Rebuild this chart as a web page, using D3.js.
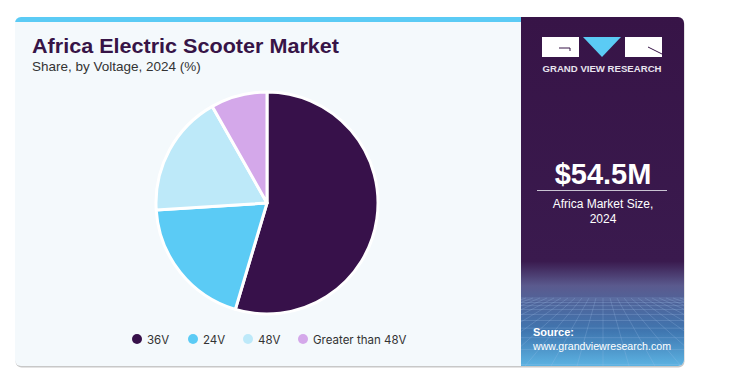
<!DOCTYPE html>
<html>
<head>
<meta charset="utf-8">
<script src="https://cdn.jsdelivr.net/npm/d3@7"></script>
<style>
    body { margin: 0; background: #fff; }
    svg { display: block; font-family: "Liberation Sans", Arial, sans-serif; }
</style>
</head>
<body>
<svg id="vis" width="730" height="378"></svg>
<script>
// chart data
const CATEGORIES = ["36V", "24V", "48V", "Greater than 48V"];
const SHARES = [54.6, 19.4, 17.8, 8.2];
const COLORS = ["#37114a", "#5bcbf5", "#bde9f9", "#d4a8ea"];

const TITLE = "Africa Electric Scooter Market";
const SUBTITLE = "Share, by Voltage, 2024 (%)";
const MARKET_SIZE = "$54.5M";
const MARKET_LABEL = ["Africa Market Size,", "2024"];

const CARD = {left: 15, top: 17, right: 684, bottom: 366, panel: 521};

var svg = d3.select("#vis");
var defs = svg.append("defs");

// clip for the rounded card
defs.append("clipPath").attr("id", "cardClip")
    .append("rect")
    .attr("x", CARD.left).attr("y", CARD.top)
    .attr("width", CARD.right - CARD.left).attr("height", CARD.bottom - CARD.top)
    .attr("rx", 6);
defs.append("clipPath").attr("id", "panelClip")
    .append("rect")
    .attr("x", CARD.panel).attr("y", CARD.top)
    .attr("width", CARD.right - CARD.panel).attr("height", CARD.bottom - CARD.top);

var grad = defs.append("linearGradient").attr("id", "panelGrad")
    .attr("x1", 0).attr("y1", 0).attr("x2", 0).attr("y2", 1);
grad.append("stop").attr("offset", "0%").attr("stop-color", "#371447");
grad.append("stop").attr("offset", "70%").attr("stop-color", "#3a1a4e");
grad.append("stop").attr("offset", "77%").attr("stop-color", "#5a5a8e");
grad.append("stop").attr("offset", "90%").attr("stop-color", "#3f76b0");
grad.append("stop").attr("offset", "100%").attr("stop-color", "#5cb3e2");

// card shadow / border
svg.append("rect")
    .attr("x", CARD.left + 0.5).attr("y", CARD.top + 1.5)
    .attr("width", CARD.right - CARD.left).attr("height", CARD.bottom - CARD.top)
    .attr("rx", 6).attr("fill", "#c8c8c8");

var card = svg.append("g").attr("clip-path", "url(#cardClip)");

card.append("rect")
    .attr("x", CARD.left).attr("y", CARD.top)
    .attr("width", CARD.right - CARD.left).attr("height", CARD.bottom - CARD.top)
    .attr("fill", "#f4f9fc");

// cyan top strip
card.append("rect")
    .attr("x", CARD.left).attr("y", CARD.top)
    .attr("width", CARD.panel - CARD.left).attr("height", 5)
    .attr("fill", "#5bcbf5");

// right panel
card.append("rect")
    .attr("x", CARD.panel).attr("y", CARD.top)
    .attr("width", CARD.right - CARD.panel).attr("height", CARD.bottom - CARD.top)
    .attr("fill", "url(#panelGrad)");

// perspective grid at the bottom of the panel
var grid = card.append("g").attr("clip-path", "url(#panelClip)")
    .attr("stroke", "#9fc3ea").attr("stroke-opacity", 0.35).attr("stroke-width", 0.7);
var horizon = 298, vx = 603;
d3.range(-14, 15).forEach(function(i){
    grid.append("line")
        .attr("x1", vx + i * 7).attr("y1", horizon)
        .attr("x2", vx + i * 26).attr("y2", CARD.bottom);
});
var y = horizon, step = 2;
while (y < CARD.bottom){
    grid.append("line").attr("x1", CARD.panel).attr("x2", CARD.right).attr("y1", y).attr("y2", y);
    y += step; step *= 1.25;
}

// titles
svg.append("text")
    .attr("x", 32).attr("y", 53)
    .attr("fill", "#371447")
    .style("font-size", "19.5px").style("font-weight", "900")
    .style("font-family", "'Liberation Sans', Arial, sans-serif")
    .attr("textLength", 307).attr("lengthAdjust", "spacingAndGlyphs")
    .text(TITLE);
svg.append("text")
    .attr("x", 32).attr("y", 71)
    .attr("fill", "#333")
    .style("font-size", "13.5px")
    .text(SUBTITLE);

// pie
var cx = 267, cy = 203, radius = 111;
var pie = d3.pie().sort(null).value(function(d){ return d; });
var arc = d3.arc().innerRadius(0).outerRadius(radius);

svg.append("g")
    .attr("transform", "translate(" + cx + "," + cy + ")")
    .selectAll("path")
    .data(pie(SHARES))
    .enter()
    .append("path")
    .attr("d", arc)
    .attr("fill", function(d, i){ return COLORS[i]; })
    .attr("stroke", "#ffffff")
    .attr("stroke-width", 3)
    .attr("stroke-linejoin", "round");

// legend
var legendX = [137, 193, 248, 303];
var legend = svg.append("g").selectAll("g")
    .data(CATEGORIES)
    .enter()
    .append("g")
    .attr("transform", function(d, i){ return "translate(" + legendX[i] + ",339)"; });
legend.append("circle").attr("r", 5).attr("fill", function(d, i){ return COLORS[i]; });
legend.append("text")
    .attr("x", 10).attr("y", 4.5)
    .attr("fill", "#333")
    .style("font-size", "11.5px")
    .style("font-family", "Inter, 'Noto Sans', sans-serif")
    .text(function(d){ return d; });

// logo
var logo = svg.append("g");
logo.append("rect").attr("x", 542).attr("y", 37).attr("width", 37).attr("height", 20).attr("fill", "#fff");
logo.append("path").attr("d", "M583,37 L621,37 L602,57 Z").attr("fill", "#5bcbf5");
logo.append("rect").attr("x", 625).attr("y", 37).attr("width", 37).attr("height", 20).attr("fill", "#fff");
logo.append("path").attr("d", "M559,48 L570,48 L570,51").attr("fill", "none").attr("stroke", "#371447").attr("stroke-width", 1);
logo.append("path").attr("d", "M648,47 L662,54").attr("fill", "none").attr("stroke", "#371447").attr("stroke-width", 1);
logo.append("text")
    .attr("x", 602).attr("y", 72).attr("text-anchor", "middle")
    .attr("fill", "#e8e4ee")
    .style("font-size", "8.5px").style("font-weight", "bold")
    .attr("textLength", 119).attr("lengthAdjust", "spacingAndGlyphs")
    .text("GRAND VIEW RESEARCH");

// market size
svg.append("text")
    .attr("x", 603).attr("y", 184).attr("text-anchor", "middle")
    .attr("fill", "#fff")
    .style("font-size", "29px").style("font-weight", "bold")
    .text(MARKET_SIZE);
svg.append("line")
    .attr("x1", 537).attr("x2", 667).attr("y1", 190.5).attr("y2", 190.5)
    .attr("stroke", "#c9c3d2").attr("stroke-width", 1);
svg.append("g").selectAll("text")
    .data(MARKET_LABEL)
    .enter()
    .append("text")
    .attr("x", 603).attr("y", function(d, i){ return 208 + i * 15; })
    .attr("text-anchor", "middle")
    .attr("fill", "#fff")
    .style("font-size", "12px")
    .text(function(d){ return d; });

// source
svg.append("text")
    .attr("x", 533).attr("y", 336)
    .attr("fill", "#fff")
    .style("font-size", "11px").style("font-weight", "bold")
    .text("Source:");
svg.append("text")
    .attr("x", 533).attr("y", 350)
    .attr("fill", "#fff")
    .style("font-size", "11px")
    .attr("textLength", 138).attr("lengthAdjust", "spacingAndGlyphs")
    .text("www.grandviewresearch.com");
</script>
</body>
</html>
